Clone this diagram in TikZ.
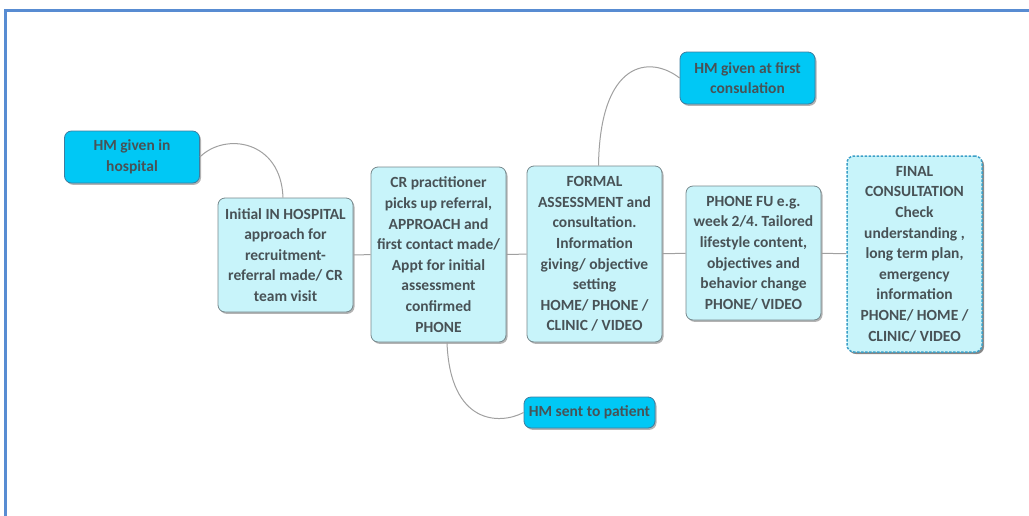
\documentclass[tikz,border=0pt]{standalone}
\usepackage{fontspec}
\setmainfont{Carlito}
\usetikzlibrary{shadows}
\definecolor{frameblue}{RGB}{88,140,210}
\definecolor{txtgray}{RGB}{72,82,86}
\definecolor{stagefill}{RGB}{200,244,250}
\definecolor{stageedge}{RGB}{118,136,140}
\definecolor{hmfill}{RGB}{0,200,245}
\definecolor{hmedge}{RGB}{60,125,160}
\definecolor{finaledge}{RGB}{60,160,200}
\definecolor{linkgray}{RGB}{160,160,160}

\begin{document}
\frenchspacing
\begin{tikzpicture}[x=1pt, y=-1pt,
    every node/.style={font=\bfseries\fontsize{15.5}{20.6}\selectfont, text=txtgray, align=center},
    stage/.style={draw=stageedge, fill=stagefill, rounded corners=7pt, line width=0.8pt,
      minimum width=135pt, inner sep=2pt,
      drop shadow={shadow xshift=1.5pt, shadow yshift=-1.8pt, opacity=.6}},
    hmbox/.style={stage, draw=hmedge, fill=hmfill},
    finalbox/.style={stage, draw=finaledge, line width=1.5pt, dash pattern=on 2.5pt off 1.5pt,
      drop shadow={shadow xshift=2pt, shadow yshift=-2pt, opacity=.85}},
    link/.style={draw=linkgray, line width=1pt}]
  \useasboundingbox (0,0) rectangle (1029,515);
  \draw[frameblue, line width=3pt] (1035,10) -- (5,10) -- (5,520);

  % main stages
  \node[stage, minimum height=114pt] (hosp) at (285.5,255)
    {Initial IN HOSPITAL\\approach for\\recruitment-\\referral made/ CR\\team visit};
  \node[stage, minimum height=175pt] (pick) at (438.5,254.5)
    {CR practitioner\\picks up referral,\\APPROACH and\\first contact made/\\Appt for initial\\assessment\\confirmed\\PHONE};
  \node[stage, minimum height=176pt] (formal) at (594.5,254)
    {FORMAL\\ASSESSMENT and\\consultation.\\Information\\giving/ objective\\setting\\HOME/ PHONE /\\CLINIC / VIDEO};
  \node[stage, minimum height=134pt] (fu) at (753.5,253)
    {PHONE FU e.g.\\week 2/4. Tailored\\lifestyle content,\\objectives and\\behavior change\\PHONE/ VIDEO};
  \node[finalbox, minimum height=196pt] (final) at (914.5,254)
    {FINAL\\CONSULTATION\\Check\\understanding ,\\long term plan,\\emergency\\information\\PHONE/ HOME /\\CLINIC/ VIDEO};

  % HM notes
  \node[hmbox, minimum height=52pt] (hmhosp) at (132,157) {HM given in\\hospital};
  \node[hmbox, minimum height=52pt] (hmfirst) at (747.5,78) {HM given at first\\consulation};
  \node[hmbox, minimum width=131pt, minimum height=31pt] (hmsent) at (589.5,412.5) {HM sent to patient};

  \draw[link] (hosp) -- (pick);
  \draw[link] (pick) -- (formal);
  \draw[link] (formal) -- (fu);
  \draw[link] (fu) -- (final);
  \draw[link] (hmhosp.east) .. controls (225,132) and (281,140) .. ([xshift=-2.5pt]hosp.north);
  \draw[link] ([xshift=4pt]formal.north) .. controls (600,60) and (650,55) .. (hmfirst.west);
  \draw[link] ([xshift=8.5pt]pick.south) .. controls (450,425) and (500,425) .. (hmsent.west);
\end{tikzpicture}
\end{document}
